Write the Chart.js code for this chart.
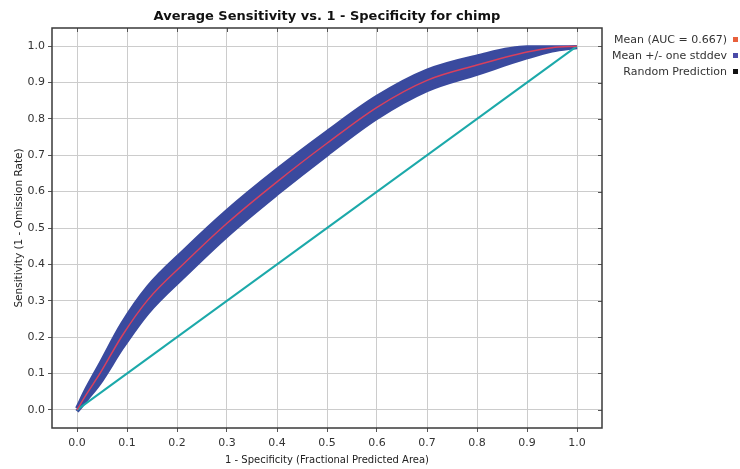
<!DOCTYPE html>
<html>
<head>
<meta charset="utf-8">
<title>Average Sensitivity vs. 1 - Specificity for chimp</title>
<script src="https://cdn.jsdelivr.net/npm/chart.js@4/dist/chart.umd.min.js"></script>
<style>
  html, body { margin: 0; padding: 0; background: #fff; }
  #wrap { width: 740px; height: 469px; position: relative; }
</style>
</head>
<body>
<div id="wrap"><canvas id="roc"></canvas></div>
<script>
// values
const fprValues = [0, 0.02, 0.046, 0.09, 0.142, 0.216, 0.3, 0.4, 0.5, 0.6, 0.7, 0.8, 0.9, 0.95, 1];
const meanTpr   = [0, 0.045, 0.1, 0.203, 0.303, 0.405, 0.513, 0.627, 0.733, 0.832, 0.906, 0.948, 0.984, 0.996, 1];
const stdTpr    = [0.004, 0.015, 0.025, 0.033, 0.035, 0.035, 0.034, 0.033, 0.031, 0.029, 0.027, 0.024, 0.015, 0.008, 0.002];
const randomFpr = [0, 1];
const randomTpr = [0, 1];
const xTicks = [0, 0.1, 0.2, 0.3, 0.4, 0.5, 0.6, 0.7, 0.8, 0.9, 1.0];
const yTicks = [0, 0.1, 0.2, 0.3, 0.4, 0.5, 0.6, 0.7, 0.8, 0.9, 1.0];
const chartTitle = 'Average Sensitivity vs. 1 - Specificity for chimp';
const legendLabels = ['Mean (AUC = 0.667)', 'Mean +/- one stddev', 'Random Prediction'];
const legendColors = ['#e8603c', '#4a4aa8', '#111111'];

const FONT = 'DejaVu Sans';
const BAND = '#3a4a9e';

const toPoints = (xs, ys) => xs.map((x, i) => ({ x: x, y: ys[i] }));
// sensitivity can't go above 1
const upperPts = toPoints(fprValues, meanTpr.map((m, i) => Math.min(0.997, m + stdTpr[i])));
const lowerPts = toPoints(fprValues, meanTpr.map((m, i) => m - stdTpr[i]));

// frame, top/right tick marks, title and legend
const framePlugin = {
  id: 'frame',
  afterDraw(chart) {
    const { ctx, chartArea: a, scales } = chart;
    ctx.save();
    ctx.strokeStyle = '#555';
    ctx.lineWidth = 1;
    ctx.beginPath();
    xTicks.forEach(v => {
      const px = Math.round(scales.x.getPixelForValue(v)) + 0.5;
      ctx.moveTo(px, a.top); ctx.lineTo(px, a.top + 4);
    });
    yTicks.forEach(v => {
      const py = Math.round(scales.y.getPixelForValue(v)) + 0.5;
      ctx.moveTo(a.right, py); ctx.lineTo(a.right - 4, py);
    });
    ctx.stroke();
    ctx.strokeStyle = '#3a3a3a';
    ctx.lineWidth = 1.5;
    ctx.strokeRect(a.left, a.top, a.right - a.left, a.bottom - a.top);

    ctx.fillStyle = '#111';
    ctx.font = 'bold 13px "' + FONT + '"';
    ctx.textAlign = 'center';
    ctx.textBaseline = 'middle';
    ctx.fillText(chartTitle, (a.left + a.right) / 2, 17);

    ctx.font = '11px "' + FONT + '"';
    ctx.textAlign = 'right';
    legendLabels.forEach((t, i) => {
      const y = 40 + i * 16;
      ctx.fillStyle = '#333';
      ctx.fillText(t, 727, y);
      ctx.fillStyle = legendColors[i];
      ctx.fillRect(733, y - 3, 5, 5);
    });
    ctx.restore();
  }
};

new Chart(document.getElementById('roc'), {
  type: 'scatter',
  data: {
    datasets: [
      {
        label: 'upper',
        data: upperPts,
        showLine: true,
        borderColor: BAND,
        borderWidth: 4,
        pointRadius: 0,
        cubicInterpolationMode: 'monotone',
        order: 4
      },
      {
        label: legendLabels[1],
        data: lowerPts,
        showLine: true,
        borderColor: BAND,
        backgroundColor: BAND,
        borderWidth: 4,
        pointRadius: 0,
        cubicInterpolationMode: 'monotone',
        fill: '-1',
        order: 3
      },
      {
        label: legendLabels[2],
        data: toPoints(randomFpr, randomTpr),
        showLine: true,
        borderColor: '#1ca9aa',
        borderWidth: 2,
        pointRadius: 0,
        order: 2
      },
      {
        label: legendLabels[0],
        data: toPoints(fprValues, meanTpr),
        showLine: true,
        borderColor: '#d8405e',
        borderWidth: 1.5,
        pointRadius: 0,
        cubicInterpolationMode: 'monotone',
        order: 1
      }
    ]
  },
  options: {
    responsive: true,
    maintainAspectRatio: false,
    animation: false,
    layout: { padding: { top: 28, right: 138, left: 0, bottom: 0 } },
    plugins: {
      legend: { display: false },
      title: { display: false },
      tooltip: { enabled: false }
    },
    scales: {
      x: {
        type: 'linear',
        min: -0.05,
        max: 1.05,
        afterBuildTicks: s => { s.ticks = xTicks.map(v => ({ value: v })); },
        afterFit: s => { s.height = 41; },
        ticks: {
          color: '#333',
          font: { family: FONT, size: 11 },
          padding: 5,
          maxRotation: 0,
          callback: v => v.toFixed(1)
        },
        grid: { color: '#cccccc', tickColor: '#555', tickLength: 4 },
        border: { display: false },
        title: {
          display: true,
          text: '1 - Specificity (Fractional Predicted Area)',
          color: '#222',
          font: { family: FONT, size: 10 },
          padding: { top: 0, bottom: 3 }
        }
      },
      y: {
        type: 'linear',
        min: -0.05,
        max: 1.05,
        afterBuildTicks: s => { s.ticks = yTicks.map(v => ({ value: v })); },
        afterFit: s => { s.width = 52; },
        ticks: {
          color: '#333',
          font: { family: FONT, size: 11 },
          padding: 3,
          callback: v => v.toFixed(1)
        },
        grid: { color: '#cccccc', tickColor: '#555', tickLength: 4 },
        border: { display: false },
        title: {
          display: true,
          text: 'Sensitivity (1 - Omission Rate)',
          color: '#222',
          font: { family: FONT, size: 10.5 },
          padding: { top: 13, bottom: 0 }
        }
      }
    }
  },
  plugins: [framePlugin]
});
</script>
</body>
</html>
